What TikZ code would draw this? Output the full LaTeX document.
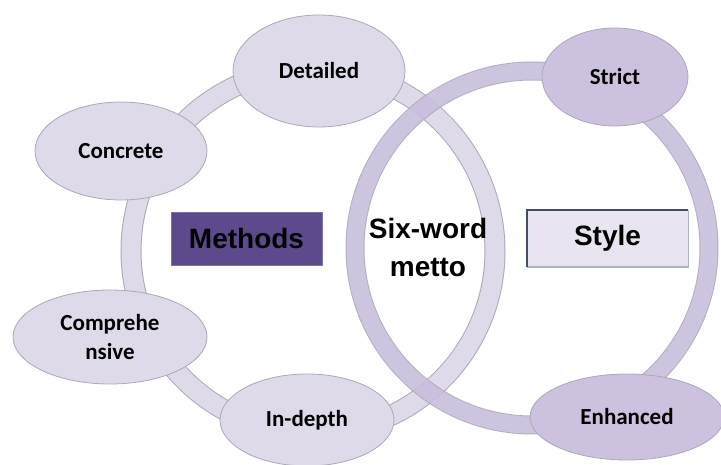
\documentclass[tikz,border=0pt]{standalone}
\usepackage{fontspec}
\setmainfont{Carlito}
\newfontfamily\headfont{Liberation Sans}
\usetikzlibrary{shapes.geometric}

\definecolor{ringlight}{HTML}{DEDAE9}
\definecolor{ringedge}{HTML}{ACA8B6}
\definecolor{ringpurple}{HTML}{C8BEDC}
\definecolor{bubblepurple}{HTML}{CCC2DF}
\definecolor{methodfill}{HTML}{5D4A8C}
\definecolor{methodedge}{HTML}{7E72A6}
\definecolor{stylefill}{HTML}{E8E5F1}
\definecolor{styledark}{HTML}{3E4F66}
\definecolor{styleedge}{HTML}{A9B6C9}

\begin{document}
\begin{tikzpicture}[x=1pt,y=-1pt,
  bubble/.style={ellipse, draw=ringedge, line width=0.8pt, inner sep=0pt,
    font=\bfseries\fontsize{23}{29}\selectfont, align=center},
  lightbubble/.style={bubble, fill=ringlight},
  purplebubble/.style={bubble, fill=bubblepurple},
  heading/.style={font=\headfont\bfseries\fontsize{28}{38}\selectfont,
    align=center, inner sep=0pt},
  bandedge/.style={ringedge, line width=21pt},
]
\useasboundingbox (0,0) rectangle (721,465);

% centres of the two rings
\coordinate (lc) at (313,251);
\coordinate (rc) at (532,248);

% left ring (methods)
\draw[bandedge] (lc) circle [radius=182];
\draw[ringlight, line width=19pt] (lc) circle [radius=182];

\node[lightbubble, minimum width=172, minimum height=112] (detailed) at (319,71) {Detailed};
\node[lightbubble, minimum width=172, minimum height=98] (concrete) at (121,151) {Concrete};
\node[lightbubble, minimum width=194, minimum height=94] (compre) at (110,337) {Comprehe\\nsive};
\node[lightbubble, minimum width=174, minimum height=92] (indepth) at (307,420) {In-depth};

% right ring (style), laid over the left one
\begin{scope}[transparency group, opacity=0.9]
  \draw[ringedge, line width=19pt] (rc) circle [radius=177];
  \draw[ringpurple, line width=17pt] (rc) circle [radius=177];
\end{scope}

\node[purplebubble, minimum width=146, minimum height=98] (strict) at (615,77) {Strict};
\node[purplebubble, minimum width=194, minimum height=86] (enhanced) at (627,417) {Enhanced};

% central labels
\node[heading, fill=methodfill, draw=methodedge, line width=0.8pt,
  minimum width=151, minimum height=53] (methods) at (246.5,238.5) {Methods};

\node[heading, fill=stylefill, minimum width=161, minimum height=57] (style) at (607.5,238.5) {Style};
\draw[styleedge, line width=1.4pt] (style.north east) -- (style.south east) -- (style.south west);
\draw[styledark, line width=1.6pt] (style.south west) -- (style.north west) -- (style.north east);

\node[heading] (motto) at (428,247) {Six-word\\metto};
\end{tikzpicture}
\end{document}
